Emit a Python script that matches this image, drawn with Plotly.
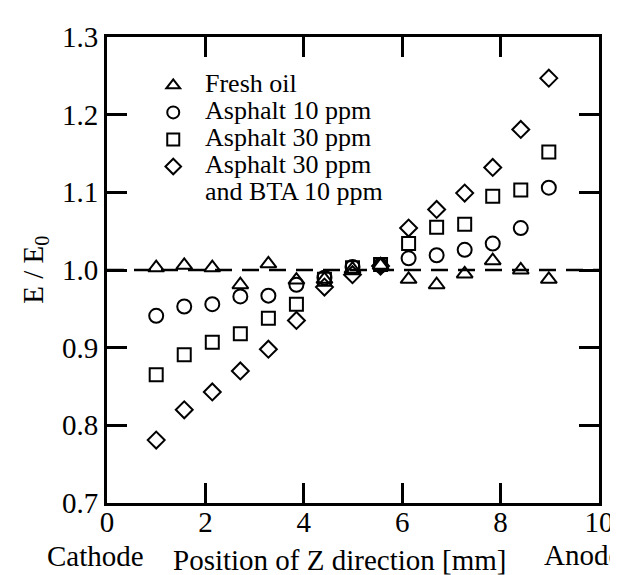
import plotly.graph_objects as go

# ---- data ----
position_mm = [1.0, 1.57, 2.14, 2.71, 3.28, 3.85, 4.42, 4.99, 5.56, 6.13, 6.70, 7.27, 7.84, 8.41, 8.98]
fresh_oil = [1.003, 1.006, 1.003, 0.981, 1.008, 0.987, 0.988, 1.001, 1.006, 0.988, 0.981, 0.995, 1.012, 1.000, 0.988]
asphalt_10 = [0.941, 0.953, 0.956, 0.966, 0.967, 0.981, 0.990, 1.004, 1.006, 1.015, 1.019, 1.026, 1.034, 1.054, 1.106]
asphalt_30 = [0.865, 0.891, 0.907, 0.918, 0.938, 0.956, 0.988, 1.003, 1.007, 1.034, 1.055, 1.059, 1.095, 1.103, 1.152]
asphalt_30_bta = [0.781, 0.820, 0.843, 0.870, 0.898, 0.935, 0.978, 0.994, 1.005, 1.054, 1.078, 1.099, 1.132, 1.181, 1.247]
reference_level = 1.0

series_names = ["Fresh oil", "Asphalt 10 ppm", "Asphalt 30 ppm", "Asphalt 30 ppm and BTA 10 ppm"]
legend_lines = ["Fresh oil", "Asphalt 10 ppm", "Asphalt 30 ppm", "Asphalt 30 ppm", "and BTA 10 ppm"]
x_tick_vals = [0, 2, 4, 6, 8, 10]
y_tick_vals = [0.7, 0.8, 0.9, 1.0, 1.1, 1.2, 1.3]

FONT = "Liberation Serif"

series = [
    (fresh_oil, "triangle-up-open", 14),
    (asphalt_10, "circle-open", 14),
    (asphalt_30, "square-open", 13),
    (asphalt_30_bta, "diamond-open", 13),
]

fig = go.Figure()
for (vals, sym, size), name in zip(series, series_names):
    fig.add_trace(go.Scatter(
        x=position_mm, y=vals, mode="markers", name=" ",
        legendgroup=name,
        marker=dict(symbol=sym, size=size, color="black",
                    line=dict(color="black", width=2)),
        hovertext=name,
    ))

fig.add_shape(type="line", xref="paper", x0=0, x1=1, yref="y",
              y0=reference_level, y1=reference_level,
              line=dict(color="black", width=2.5, dash="17px,10px"), layer="below")

# legend text (symbols come from the native legend)
row_step = 27 / 466
for i, t in enumerate(legend_lines):
    fig.add_annotation(text=t, xref="paper", yref="paper", x=0.195,
                       y=0.901 - i * row_step, xanchor="left", yanchor="middle",
                       showarrow=False, font=dict(family=FONT, size=26, color="black"))

# axis titles and end labels
fig.add_annotation(text="E / E<sub>0</sub>", xref="paper", yref="paper", x=-0.147, y=0.5,
                   textangle=-90, showarrow=False, xanchor="center", yanchor="middle",
                   font=dict(family=FONT, size=29, color="black"))
fig.add_annotation(text="Position of Z direction [mm]", xref="paper", yref="paper",
                   x=0.472, y=-0.122, showarrow=False, xanchor="center", yanchor="middle",
                   font=dict(family=FONT, size=29, color="black"))
fig.add_annotation(text="Cathode", xref="paper", yref="paper", x=-0.024, y=-0.114,
                   showarrow=False, xanchor="center", yanchor="middle",
                   font=dict(family=FONT, size=29, color="black"))
fig.add_annotation(text="Anode", xref="paper", yref="paper", x=0.884, y=-0.112,
                   showarrow=False, xanchor="left", yanchor="middle",
                   font=dict(family=FONT, size=29, color="black"))

axis_common = dict(showline=True, linecolor="black", linewidth=3, mirror="ticks",
                   ticks="inside", ticklen=20, tickwidth=3, tickcolor="black",
                   showgrid=False, zeroline=False,
                   tickfont=dict(family=FONT, size=29, color="black"))

fig.update_xaxes(range=[0, 10], tickvals=x_tick_vals, ticklabelstandoff=-9, **axis_common)
fig.update_yaxes(range=[0.7, 1.3], tickvals=y_tick_vals, tickformat=".1f", **axis_common)

fig.update_layout(
    width=618, height=575,
    margin=dict(l=99, r=17, t=29, b=80),
    paper_bgcolor="white", plot_bgcolor="white",
    font=dict(family=FONT, color="black"),
    showlegend=True,
    legend=dict(x=0.094, y=0.936, xanchor="left", yanchor="top",
                font=dict(family=FONT, size=18.5), itemsizing="constant",
                bgcolor="rgba(0,0,0,0)", tracegroupgap=0, traceorder="normal"),
)

fig.write_html("out.html")
